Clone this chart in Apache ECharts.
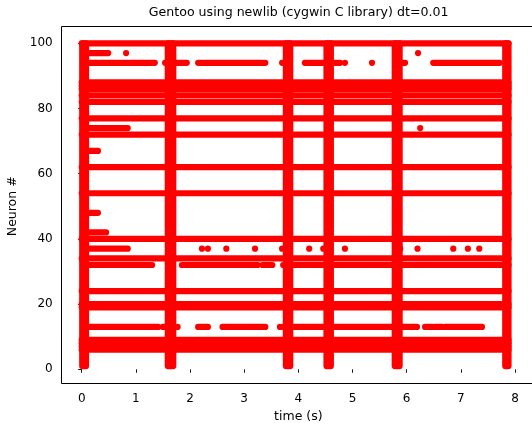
<!DOCTYPE html>
<html>
<head>
<meta charset="utf-8">
<script src="https://cdn.jsdelivr.net/npm/echarts@6/dist/echarts.min.js"></script>
<style>
  html, body { margin: 0; padding: 0; background: #ffffff; }
  #chart { width: 532px; height: 423px; }
</style>
</head>
<body>
<div id="chart"></div>
<script>
// Spike raster: neuron index vs. time for a 100-neuron network run.

const titleText = 'Gentoo using newlib (cygwin C library) dt=0.01';
const xLabel = 'time (s)';
const yLabel = 'Neuron #';

// Visible data range of the frame (seconds, neuron index)
const xRange = [-0.39, 8.4];
const yRange = [-4.2, 105.3];
const xTickStep = 1;
const yTickStep = 20;

// Run length in seconds
const simStart = 0.0;
const simEnd = 7.88;

// Neurons that fire on every step of the run
const tonicNeurons = [100, 88, 87, 86, 84, 82, 77, 72, 62, 54, 40, 34, 24, 20, 19, 9, 8, 7, 6];

// Spike trains of the other neurons: [neuron, first spike (s), last spike (s)]
const spikeTrains = [
  [97, 0.10, 0.49],
  [94, 0.10, 1.35], [94, 1.72, 1.94], [94, 2.15, 3.39], [94, 4.12, 4.77],
  [94, 5.88, 5.97], [94, 6.49, 7.72],
  [74, 0.10, 0.85],
  [67, 0.10, 0.30],
  [48, 0.10, 0.30],
  [42, 0.10, 0.45],
  [37, 0.10, 0.85],
  [32, 0.10, 1.30], [32, 1.85, 3.25], [32, 3.34, 3.52], [32, 3.72, 7.88],
  [13, 0.10, 1.41], [13, 1.50, 1.56], [13, 2.15, 2.33], [13, 2.60, 3.39],
  [13, 3.72, 6.19], [13, 6.34, 6.47], [13, 6.52, 6.65], [13, 6.71, 7.39]
];

// Isolated spikes: [time (s), neuron]
const singleSpikes = [
  [0.82, 97], [6.21, 97],
  [1.54, 94], [3.70, 94], [4.86, 94], [5.36, 94],
  [6.25, 74],
  [2.22, 37], [2.33, 37], [2.67, 37], [3.20, 37], [3.70, 37], [4.20, 37],
  [4.46, 37], [4.86, 37], [5.88, 37], [6.20, 37], [6.86, 37], [7.13, 37], [7.34, 37],
  [1.77, 13], [3.66, 13]
];

// Network-wide bursts: [start (s), end (s)]
const bursts = [
  [0.01, 0.08], [1.59, 1.69], [3.77, 3.85], [4.52, 4.60], [5.78, 5.87], [7.82, 7.88]
];
const burstNeurons = [1, 100];

const SPIKE_COLOR = '#ff0000';
const DOT = 6.2;           // marker diameter in px
const R = DOT / 2;

const trainRows = tonicNeurons.map(n => [simStart, simEnd, n])
  .concat(spikeTrains.map(s => [s[1], s[2], s[0]]));
const burstRows = bursts.map(b => [b[0], b[1], burstNeurons[0], burstNeurons[1]]);

const font = '"DejaVu Sans", sans-serif';
const chart = echarts.init(document.getElementById('chart'), null, { renderer: 'canvas' });

const option = {
  animation: false,
  backgroundColor: '#ffffff',
  grid: { left: 81.7, right: 17, top: 43.3, bottom: 53.7, containLabel: false, outerBoundsMode: 'none' },
  xAxis: {
    type: 'value', min: 0, max: 8, interval: xTickStep,
    offset: 13.7,
    axisLine: { show: false },
    axisTick: { show: true, length: 3.5, lineStyle: { color: '#000', width: 0.9 } },
    axisLabel: { color: '#000', fontSize: 12, fontFamily: font, margin: 10 },
    splitLine: { show: false },
    name: xLabel, nameLocation: 'middle', nameGap: 27,
    nameTextStyle: { color: '#000', fontSize: 12.5, fontFamily: font }
  },
  yAxis: {
    type: 'value', min: 0, max: 100, interval: yTickStep,
    offset: 21,
    axisLine: { show: false },
    axisTick: { show: true, length: 3.5, lineStyle: { color: '#000', width: 0.9 } },
    axisLabel: { color: '#000', fontSize: 12, fontFamily: font, margin: 8 },
    splitLine: { show: false },
    name: yLabel, nameLocation: 'middle', nameGap: 37,
    nameTextStyle: { color: '#000', fontSize: 12.5, fontFamily: font }
  },
  series: [
    {
      type: 'custom',
      name: 'trains',
      clip: false,
      data: trainRows,
      encode: { x: [0, 1], y: 2 },
      renderItem: function (params, api) {
        const a = api.coord([api.value(0), api.value(2)]);
        const b = api.coord([api.value(1), api.value(2)]);
        return {
          type: 'rect',
          shape: { x: a[0] - R, y: a[1] - R, width: b[0] - a[0] + DOT, height: DOT, r: R },
          style: { fill: SPIKE_COLOR }
        };
      }
    },
    {
      type: 'custom',
      name: 'bursts',
      clip: false,
      data: burstRows,
      encode: { x: [0, 1], y: [2, 3] },
      renderItem: function (params, api) {
        const a = api.coord([api.value(0), api.value(3)]);
        const b = api.coord([api.value(1), api.value(2)]);
        return {
          type: 'rect',
          shape: { x: a[0] - R, y: a[1] - R, width: b[0] - a[0] + DOT, height: b[1] - a[1] + DOT, r: R },
          style: { fill: SPIKE_COLOR }
        };
      }
    },
    {
      type: 'scatter',
      name: 'spikes',
      data: singleSpikes,
      symbol: 'circle',
      symbolSize: DOT,
      itemStyle: { color: SPIKE_COLOR, opacity: 1 },
      clip: false
    }
  ]
};
chart.setOption(option);

// Frame and title, placed from the axis scales
const tl = chart.convertToPixel({ gridIndex: 0 }, [xRange[0], yRange[1]]);
const br = chart.convertToPixel({ gridIndex: 0 }, [xRange[1], yRange[0]]);
const x0 = Math.round(tl[0]) + 0.5, y0 = Math.round(tl[1]) + 0.5;
const x1 = Math.round(br[0]) + 0.5, y1 = Math.round(br[1]) + 0.5;
chart.setOption({
  graphic: [
    {
      type: 'rect', silent: true, z: 100,
      shape: { x: x0, y: y0, width: x1 - x0, height: y1 - y0 },
      style: { fill: null, stroke: '#000', lineWidth: 1 }
    },
    {
      type: 'text', silent: true, z: 100,
      x: (tl[0] + br[0]) / 2, y: y0 - 7,
      style: {
        text: titleText, fill: '#000', font: '12.6px ' + font,
        textAlign: 'center', textVerticalAlign: 'bottom'
      }
    }
  ]
});
</script>
</body>
</html>
